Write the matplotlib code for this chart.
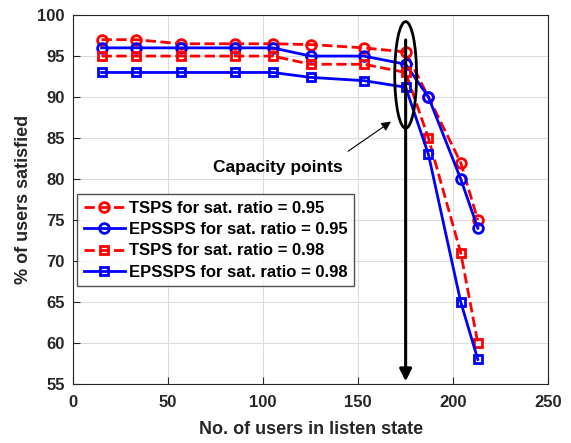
import numpy as np
import matplotlib.pyplot as plt
from matplotlib.patches import Ellipse

plt.rcParams['font.family'] = ['Liberation Sans', 'DejaVu Sans']
plt.rcParams['font.weight'] = 'bold'

users = [15, 33, 57, 85, 105, 125, 153, 175, 187, 204, 213]
tsps_95 = [97, 97, 96.5, 96.5, 96.5, 96.4, 96, 95.5, 90, 82, 75]
epssps_95 = [96, 96, 96, 96, 96, 95, 95, 94, 90, 80, 74]
tsps_98 = [95, 95, 95, 95, 95, 94, 94, 93, 85, 71, 60]
epssps_98 = [93, 93, 93, 93, 93, 92.4, 92, 91.2, 83, 65, 58]

labels = ['TSPS for sat. ratio = 0.95', 'EPSSPS for sat. ratio = 0.95',
          'TSPS for sat. ratio = 0.98', 'EPSSPS for sat. ratio = 0.98']

fig = plt.figure(figsize=(5.71, 4.43), dpi=100)
ax = fig.add_axes([0.128, 0.133, 0.832, 0.833])

ax.plot(users, tsps_95, 'r--o', lw=2, ms=7, mfc='none', mew=2, label=labels[0])
ax.plot(users, epssps_95, 'b-o', lw=2, ms=7, mfc='none', mew=2, label=labels[1])
ax.plot(users, tsps_98, 'r--s', lw=2, ms=6, mfc='none', mew=2, label=labels[2])
ax.plot(users, epssps_98, 'b-s', lw=2, ms=6, mfc='none', mew=2, label=labels[3])

# capacity points marker
ax.add_patch(Ellipse((175, 92.7), 11.5, 13, fill=False, ec='k', lw=2, zorder=5))
ax.annotate('', xy=(175, 55), xytext=(175, 97.3),
            arrowprops=dict(arrowstyle='-|>', color='k', lw=2.2, mutation_scale=18), zorder=6)
ax.text(108, 81.4, 'Capacity points', ha='center', va='center', fontsize=12.5, fontweight='bold')
ax.annotate('', xy=(168.5, 87.2), xytext=(143.5, 83.2),
            arrowprops=dict(arrowstyle='-|>', color='k', lw=0.8, mutation_scale=14))

ax.set_xlim(0, 250)
ax.set_ylim(55, 100)
ax.set_xticks(np.arange(0, 251, 50))
ax.set_yticks(np.arange(55, 101, 5))
ax.grid(True, color='#dddddd', lw=0.8)
ax.set_axisbelow(True)
ax.tick_params(direction='in', labelsize=12, length=5, colors='#262626')
ax.tick_params(axis='x', pad=8)
ax.tick_params(axis='y', pad=6)
for s in ax.spines.values():
    s.set_color('#262626')
ax.set_xlabel('No. of users in listen state', fontsize=13, fontweight='bold',
              color='#262626', labelpad=8)
ax.set_ylabel('% of users satisfied', fontsize=13, fontweight='bold', color='#262626')

leg = ax.legend(loc='upper left', bbox_to_anchor=(0.008, 0.515), fontsize=12,
                frameon=True, fancybox=False, edgecolor='#262626',
                handlelength=2.5, borderpad=0.4, labelspacing=0.38, handletextpad=0.2,
                borderaxespad=0)
leg.get_frame().set_linewidth(1)
leg.set_zorder(10)

fig.savefig('out.png', dpi=100)
